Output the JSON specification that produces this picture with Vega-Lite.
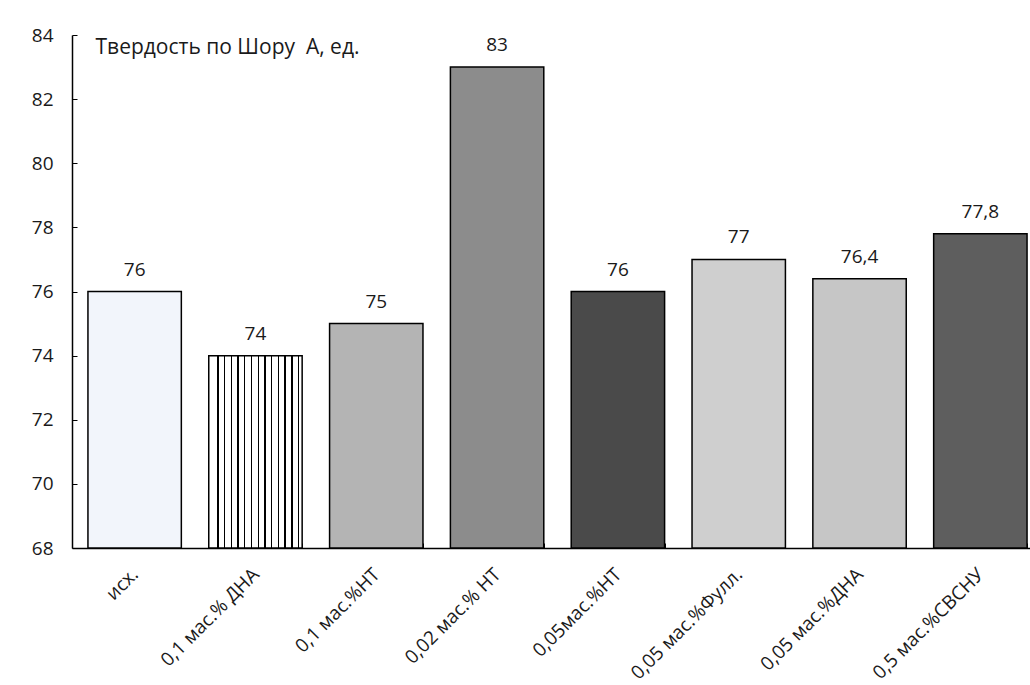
{
  "$schema": "https://vega.github.io/schema/vega-lite/v6.json",
  "width": 958,
  "height": 513,
  "autosize": {"type": "none"},
  "padding": {"left": 72, "top": 35, "right": 0, "bottom": 137},
  "background": "white",
  "config": {
    "view": {"stroke": null},
    "font": "Open Sans",
    "locale": {"number": {"decimal": ",", "thousands": " ", "grouping": [3], "currency": ["", " ₽"]}}
  },
  "data": {
    "values": [
      {"k": "исх.", "v": 76},
      {"k": "0,1 мас.% ДНА", "v": 74},
      {"k": "0,1 мас.%НТ", "v": 75},
      {"k": "0,02 мас.% НТ", "v": 83},
      {"k": "0,05мас.%НТ", "v": 76},
      {"k": "0,05 мас.%Фулл.", "v": 77},
      {"k": "0,05 мас.%ДНА", "v": 76.4},
      {"k": "0,5 мас.%СВСНУ", "v": 77.8}
    ]
  },
  "encoding": {
    "x": {
      "field": "k",
      "type": "nominal",
      "sort": null,
      "scale": {"paddingInner": 0.227, "paddingOuter": 0.132, "range": [0, 971]},
      "axis": {
        "title": null,
        "labelAngle": -45,
        "labelAlign": "right",
        "labelBaseline": "middle",
        "labelFontSize": 19,
        "labelColor": "#1a1a1a",
        "labelPadding": 28,
        "tickBand": "extent",
        "tickSize": -5,
        "tickColor": "#000",
        "domainColor": "#000",
        "domainWidth": 1.5,
        "labelLimit": 300
      }
    },
    "y": {
      "field": "v",
      "type": "quantitative",
      "scale": {"domain": [68, 84], "nice": false, "zero": false},
      "axis": {
        "values": [68, 70, 72, 74, 76, 78, 80, 82, 84],
        "grid": false,
        "tickSize": -5,
        "tickColor": "#000",
        "domainColor": "#000",
        "domainWidth": 1.5,
        "labelFontSize": 19,
        "labelColor": "#1a1a1a",
        "labelPadding": 24,
        "title": "Твердость по Шору\u00a0 А, ед.",
        "titleAngle": 0,
        "titleAlign": "left",
        "titleBaseline": "middle",
        "titleX": 23,
        "titleY": 12,
        "titleFontSize": 21,
        "titleFontWeight": "normal",
        "titleColor": "#1a1a1a"
      }
    }
  },
  "layer": [
    {
      "mark": {"type": "bar", "stroke": "#000", "strokeWidth": 1.5},
      "encoding": {
        "y2": {"datum": 68},
        "fill": {
          "condition": [
            {"test": "datum.k === 'исх.'", "value": "#f2f5fb"},
            {"test": "datum.k === '0,1 мас.% ДНА'", "value": {
              "gradient": "linear", "x1": 0, "y1": 0, "x2": 1, "y2": 0,
              "stops": [
                {"offset": 0, "color": "#ffffff"},
                {"offset": 0.09, "color": "#ffffff"}, {"offset": 0.09, "color": "#000000"}, {"offset": 0.105, "color": "#000000"}, {"offset": 0.105, "color": "#ffffff"},
                {"offset": 0.162, "color": "#ffffff"}, {"offset": 0.162, "color": "#000000"}, {"offset": 0.177, "color": "#000000"}, {"offset": 0.177, "color": "#ffffff"},
                {"offset": 0.234, "color": "#ffffff"}, {"offset": 0.234, "color": "#000000"}, {"offset": 0.249, "color": "#000000"}, {"offset": 0.249, "color": "#ffffff"},
                {"offset": 0.306, "color": "#ffffff"}, {"offset": 0.306, "color": "#000000"}, {"offset": 0.321, "color": "#000000"}, {"offset": 0.321, "color": "#ffffff"},
                {"offset": 0.378, "color": "#ffffff"}, {"offset": 0.378, "color": "#000000"}, {"offset": 0.393, "color": "#000000"}, {"offset": 0.393, "color": "#ffffff"},
                {"offset": 0.45, "color": "#ffffff"}, {"offset": 0.45, "color": "#000000"}, {"offset": 0.465, "color": "#000000"}, {"offset": 0.465, "color": "#ffffff"},
                {"offset": 0.522, "color": "#ffffff"}, {"offset": 0.522, "color": "#000000"}, {"offset": 0.537, "color": "#000000"}, {"offset": 0.537, "color": "#ffffff"},
                {"offset": 0.594, "color": "#ffffff"}, {"offset": 0.594, "color": "#000000"}, {"offset": 0.609, "color": "#000000"}, {"offset": 0.609, "color": "#ffffff"},
                {"offset": 0.666, "color": "#ffffff"}, {"offset": 0.666, "color": "#000000"}, {"offset": 0.681, "color": "#000000"}, {"offset": 0.681, "color": "#ffffff"},
                {"offset": 0.738, "color": "#ffffff"}, {"offset": 0.738, "color": "#000000"}, {"offset": 0.753, "color": "#000000"}, {"offset": 0.753, "color": "#ffffff"},
                {"offset": 0.81, "color": "#ffffff"}, {"offset": 0.81, "color": "#000000"}, {"offset": 0.825, "color": "#000000"}, {"offset": 0.825, "color": "#ffffff"},
                {"offset": 0.882, "color": "#ffffff"}, {"offset": 0.882, "color": "#000000"}, {"offset": 0.897, "color": "#000000"}, {"offset": 0.897, "color": "#ffffff"},
                {"offset": 0.954, "color": "#ffffff"}, {"offset": 0.954, "color": "#000000"}, {"offset": 0.969, "color": "#000000"}, {"offset": 0.969, "color": "#ffffff"},
                {"offset": 1, "color": "#ffffff"}
              ]
            }},
            {"test": "datum.k === '0,1 мас.%НТ'", "value": "#b4b4b4"},
            {"test": "datum.k === '0,02 мас.% НТ'", "value": "#8c8c8c"},
            {"test": "datum.k === '0,05мас.%НТ'", "value": "#4a4a4a"},
            {"test": "datum.k === '0,05 мас.%Фулл.'", "value": "#cfcfcf"},
            {"test": "datum.k === '0,05 мас.%ДНА'", "value": "#c6c6c6"}
          ],
          "value": "#5e5e5e"
        }
      }
    },
    {
      "mark": {"type": "text", "baseline": "middle", "dy": -22, "fontSize": 19, "color": "#1a1a1a"},
      "encoding": {
        "text": {"field": "v", "type": "quantitative", "format": "~r"}
      }
    }
  ]
}
